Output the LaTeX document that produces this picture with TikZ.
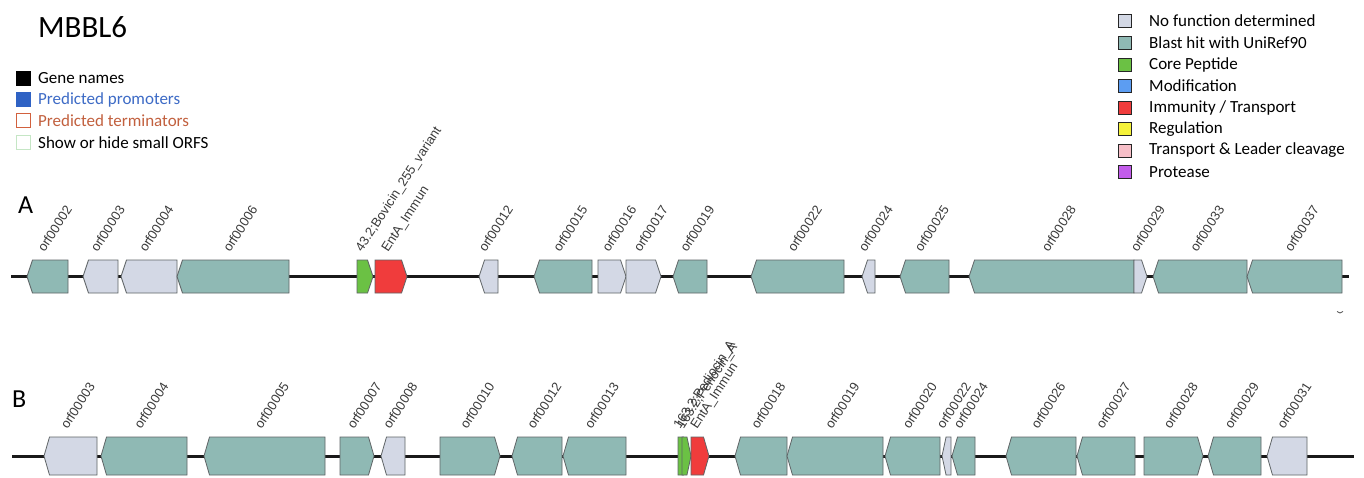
\documentclass[tikz,border=0pt]{standalone}
\usepackage{fontspec}
\setmainfont{Carlito}
\newfontfamily\arialf{Liberation Sans}
\definecolor{nofunc}{HTML}{D3D8E5}
\definecolor{blast}{HTML}{8FB9B4}
\definecolor{core}{HTML}{6BC144}
\definecolor{modif}{HTML}{5C9DF2}
\definecolor{immun}{HTML}{F03C3C}
\definecolor{regul}{HTML}{F5F23A}
\definecolor{translead}{HTML}{F7BFC8}
\definecolor{protease}{HTML}{C35CEB}
\definecolor{genedge}{HTML}{5F6466}
\definecolor{lblgray}{HTML}{3A3A3A}
\definecolor{promblue}{HTML}{2F62C4}
\definecolor{promtext}{HTML}{3D6BC6}
\definecolor{termred}{HTML}{D2613E}
\definecolor{termtext}{HTML}{C2603E}
\definecolor{orfgreen}{HTML}{C5E6C5}
\newcommand{\gR}[7]{%
  \pgfmathsetmacro\gd{min(5.5,0.45*(#3-#2))}%
  \pgfmathsetmacro\gm{(#4+#5)/2}%
  \pgfmathsetmacro\gc{(#2+#3)/2-3}%
  \pgfmathsetmacro\gy{#4-7}%
  \draw[genebox,fill=#6] (#2,#4) -- ({#3-\gd},#4) -- (#3,\gm) -- ({#3-\gd},#5) -- (#2,#5) -- cycle;
  \node[glabel] (#1) at (\gc,\gy) {#7};}
\newcommand{\gL}[7]{%
  \pgfmathsetmacro\gd{min(5.5,0.45*(#3-#2))}%
  \pgfmathsetmacro\gm{(#4+#5)/2}%
  \pgfmathsetmacro\gc{(#2+#3)/2-3}%
  \pgfmathsetmacro\gy{#4-7}%
  \draw[genebox,fill=#6] (#3,#4) -- ({#2+\gd},#4) -- (#2,\gm) -- ({#2+\gd},#5) -- (#3,#5) -- cycle;
  \node[glabel] (#1) at (\gc,\gy) {#7};}
\begin{document}
\begin{tikzpicture}[x=1pt,y=-1pt,
  genebox/.style={draw=genedge,line width=0.8pt,line join=miter},
  glabel/.style={rotate=57,anchor=base west,inner sep=0pt,text=lblgray,font=\arialf\fontsize{13}{15}\selectfont},
  backbone/.style={draw=black!90,line width=2.2pt},
  legsq/.style={draw=black!85,line width=0.9pt},
  legtxt/.style={anchor=west,inner sep=0pt,font=\fontsize{17}{20}\selectfont},
  tracklbl/.style={anchor=base west,inner sep=0pt,font=\fontsize{26}{30}\selectfont}]
\useasboundingbox (0,0) rectangle (1364,477);
\fill[white] (0,0) rectangle (1364,477);
% title
\node[anchor=base west,inner sep=0pt,font=\fontsize{31}{36}\selectfont] (title) at (38,37) {MBBL6};
% left legend
\fill[black] (16,71) rectangle (31,86);
\node[legtxt] (lg1) at (38,78) {Gene names};
\fill[promblue] (16,92) rectangle (31,107);
\node[legtxt,text=promtext] (lg2) at (38,99.5) {Predicted promoters};
\draw[termred,line width=1pt] (16.5,113.5) rectangle (30.5,127.5);
\node[legtxt,text=termtext] (lg3) at (38,121) {Predicted terminators};
\draw[orfgreen,line width=1pt] (16.5,135) rectangle (30.5,149);
\node[legtxt] (lg4) at (38,142.5) {Show or hide small ORFS};
% right legend
\foreach \c/\t/\y [count=\i] in {nofunc/{No function determined}/21,
  blast/{Blast hit with UniRef90}/43,
  core/{Core Peptide}/64.5,
  modif/{Modification}/86,
  immun/{Immunity / Transport}/107.5,
  regul/{Regulation}/129,
  translead/{Transport \& Leader cleavage}/150.5,
  protease/{Protease}/172}{
  \draw[legsq,fill=\c] (1118.5,\y-6.5) rectangle (1131.5,\y+6.5);
  \node[legtxt] (rl\i) at (1149,\y) {\t};
}
% track labels
\node[tracklbl] (trA) at (18,213) {A};
\node[tracklbl] (trB) at (12,407) {B};
% ---- track A ----
\coordinate (aS) at (11,276.5);
\coordinate (aE) at (1349,276.5);
\draw[backbone] (aS) -- (aE);
\gL{a1}{27}{68}{260}{293}{blast}{orf00002}
\gL{a2}{83}{118}{260}{293}{nofunc}{orf00003}
\gL{a3}{121}{177}{260}{293}{nofunc}{orf00004}
\gL{a4}{177}{289}{260}{293}{blast}{orf00006}
\gR{a5}{357}{373}{260}{293}{core}{43.2;Bovicin\_255\_variant}
\gR{a6}{375}{407}{260}{293}{immun}{EntA\_Immun}
\gL{a7}{479}{498}{260}{293}{nofunc}{orf00012}
\gL{a8}{534}{592}{260}{293}{blast}{orf00015}
\gR{a9}{598}{626}{260}{293}{nofunc}{orf00016}
\gR{a10}{626}{661}{260}{293}{nofunc}{orf00017}
\gL{a11}{673}{707}{260}{293}{blast}{orf00019}
\gL{a12}{751}{844}{260}{293}{blast}{orf00022}
\gL{a13}{862}{875}{260}{293}{nofunc}{orf00024}
\gL{a14}{900}{949}{260}{293}{blast}{orf00025}
\gL{a15}{969}{1134}{260}{293}{blast}{orf00028}
\gR{a16}{1134}{1147}{260}{293}{nofunc}{orf00029}
\gL{a17}{1153}{1247}{260}{293}{blast}{orf00033}
\gL{a18}{1247}{1342}{260}{293}{blast}{orf00037}
\draw[black!70,line width=0.8pt] (1337,311.5) to[bend right=60] (1343,311.5);
% ---- track B ----
\coordinate (bS) at (12,456.5);
\coordinate (bE) at (1354,456.5);
\draw[backbone] (bS) -- (bE);
\gL{b1}{44}{97}{437}{475}{nofunc}{orf00003}
\gL{b2}{101}{187}{437}{475}{blast}{orf00004}
\gL{b3}{204}{325}{437}{475}{blast}{orf00005}
\gR{b4}{340}{374}{437}{475}{blast}{orf00007}
\gL{b5}{381}{405}{437}{475}{nofunc}{orf00008}
\gR{b6}{440}{500}{437}{475}{blast}{orf00010}
\gL{b7}{512}{562}{437}{475}{blast}{orf00012}
\gL{b8}{563}{626}{437}{475}{blast}{orf00013}
\gR{b9}{678}{688}{437}{475}{core}{163.2;Pediocin\_A}
\gR{b10}{682}{691}{437}{475}{core}{163.2;Penocin\_A}
\gR{b11}{691}{709}{437}{475}{immun}{EntA\_Immun}
\gL{b12}{735}{787}{437}{475}{blast}{orf00018}
\gL{b13}{787}{883}{437}{475}{blast}{orf00019}
\gL{b14}{885}{940}{437}{475}{blast}{orf00020}
\gL{b15}{942}{951}{437}{475}{nofunc}{orf00022}
\gL{b16}{952}{975}{437}{475}{blast}{orf00024}
\gL{b17}{1006}{1076}{437}{475}{blast}{orf00026}
\gL{b18}{1077}{1135}{437}{475}{blast}{orf00027}
\gR{b19}{1144}{1203}{437}{475}{blast}{orf00028}
\gL{b20}{1208}{1261}{437}{475}{blast}{orf00029}
\gL{b21}{1267}{1307}{437}{475}{nofunc}{orf00031}
\end{tikzpicture}
\end{document}
